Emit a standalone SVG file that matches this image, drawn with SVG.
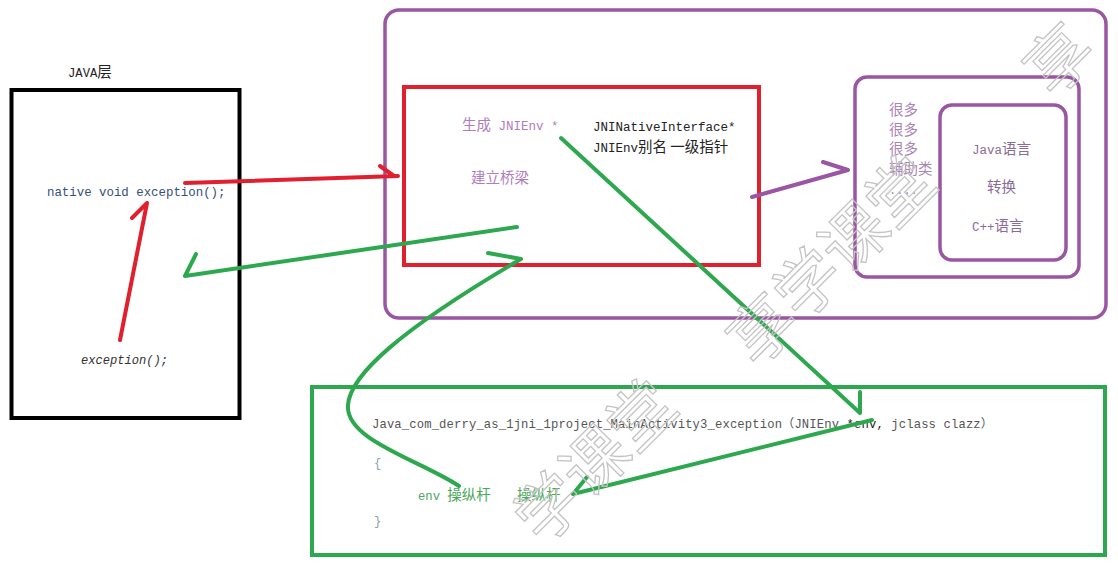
<svg xmlns="http://www.w3.org/2000/svg" width="1118" height="569" viewBox="0 0 1118 569">
<style>
.m{font-family:"Liberation Mono","Noto Sans CJK SC",monospace;}
.c{font-family:"Noto Sans CJK SC",sans-serif;}
.box{fill:none;}
.red{stroke:#e0202e;stroke-width:4;fill:none;stroke-linecap:round;stroke-linejoin:round;}
.grn{stroke:#2ea84f;stroke-width:4;fill:none;stroke-linecap:round;stroke-linejoin:round;}
.pur{stroke:#9a55a3;stroke-width:4;fill:none;stroke-linecap:round;stroke-linejoin:round;}
.wm{font-family:"Noto Sans CJK SC",sans-serif;font-size:65px;fill:none;stroke:#c4c4c4;stroke-width:1.3;}
</style>
<rect width="1118" height="569" fill="#ffffff"/>

<g id="node-java">
<text class="m" x="68" y="77" font-size="12.2" fill="#222">JAVA<tspan class="c" font-size="14.5">层</tspan></text>
<rect class="box" x="11.5" y="90" width="228" height="328" stroke="#000" stroke-width="4"/>
<text class="m" x="47" y="196" font-size="12.4" fill="#34507a">native void exception();</text>
<text class="m" x="81" y="364" font-size="12.1" font-style="italic" fill="#333">exception();</text>
</g>

<g id="node-runtime">
<rect class="box" x="385" y="10" width="721" height="308" rx="14" stroke="#9a55a3" stroke-width="3.5"/>
</g>

<g id="node-bridge">
<rect class="box" x="404" y="87" width="355" height="178" stroke="#e0202e" stroke-width="4"/>
<text class="m" x="462" y="130" font-size="12.5" fill="#b07cc0"><tspan class="c" font-size="14.5">生成</tspan> JNIEnv *</text>
<text class="c" x="471" y="183" font-size="14.5" fill="#b07cc0">建立桥梁</text>
<text class="m" x="593" y="131" font-size="12.5" fill="#222">JNINativeInterface*</text>
<text class="m" x="593" y="152" font-size="12.5" fill="#222">JNIEnv<tspan class="c" font-size="14.5">别名 一级指针</tspan></text>
</g>

<g id="node-helpers">
<rect class="box" x="855" y="77" width="224" height="200" rx="12" stroke="#9a55a3" stroke-width="3.5"/>
<g class="c" font-size="14.5" fill="#a985b5">
<text x="889" y="115">很多</text>
<text x="889" y="135">很多</text>
<text x="889" y="154">很多</text>
<text x="889" y="174">辅助类</text>
<text class="m" x="889" y="194" font-size="12">....</text>
</g>
</g>

<g id="node-convert">
<rect class="box" x="940" y="105" width="126" height="155" rx="12" stroke="#9a55a3" stroke-width="3.5"/>
<text class="m" x="972" y="154" font-size="12.5" fill="#8a6b98">Java<tspan class="c" font-size="14.5">语言</tspan></text>
<text class="c" x="987" y="192" font-size="14.5" fill="#8a6b98">转换</text>
<text class="m" x="972" y="231" font-size="12.5" fill="#8a6b98">C++<tspan class="c" font-size="14.5">语言</tspan></text>
</g>

<g id="node-native">
<rect class="box" x="312" y="387" width="793" height="168" stroke="#2ea84f" stroke-width="4"/>
<text class="m" x="372" y="428" font-size="12.2" fill="#555" textLength="621" lengthAdjust="spacing">Java_com_derry_as_1jni_1project_MainActivity3_exception（JNIEnv <tspan fill="#222">*env,</tspan> jclass clazz）</text>
<text class="m" x="374" y="467" font-size="12.2" fill="#8aa0b0">{</text>
<text class="m" x="418" y="500" font-size="12.2" fill="#4aa85a">env <tspan class="c" font-size="14.5">操纵杆</tspan></text>
<text class="c" x="517" y="500" font-size="14.5" fill="#4aa85a">操纵杆</text>
<text class="m" x="374" y="525" font-size="12.2" fill="#8aa0b0">}</text>
</g>

<g id="connectors">
<path class="red" d="M185,183 L398,176 M380,166 L394,176"/>
<path class="red" d="M120,340 L147,203 M132,218 L147,203"/>
<path class="grn" d="M517,227 L185,276 M196,254 L185,276"/>
<path class="grn" d="M561,138 L860,413 M860,392 L860,413"/>
<path class="grn" d="M872,420 L573,494 M587,477 L573,494"/>
<path class="grn" d="M459,486 C420,460 345,440 348,405 C350,375 400,330 521,259 M488,253 L521,259"/>
<path class="pur" d="M752,197 L848,170 M823,162 L848,170"/>
</g>

<g id="watermark">
<text class="wm" text-anchor="middle" dominant-baseline="central" transform="translate(828,257) rotate(-45)">享学课堂</text>
<text class="wm" text-anchor="middle" dominant-baseline="central" transform="translate(592,458) rotate(-45)">学课堂</text>
<text class="wm" font-size="58" text-anchor="middle" dominant-baseline="central" transform="translate(1056,56) rotate(-45)">享</text>
</g>
</svg>
